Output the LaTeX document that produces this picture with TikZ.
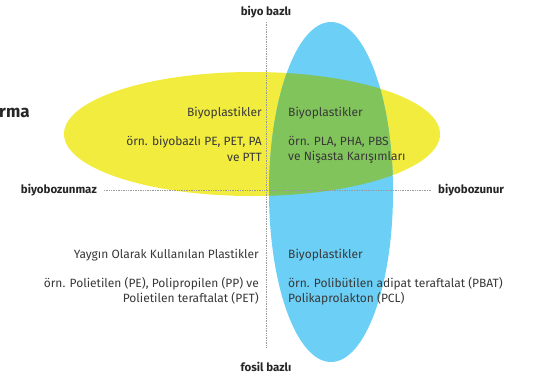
\documentclass[tikz,border=0pt]{standalone}
\usepackage{fontspec}
\setmainfont{Fira Sans}
\begin{document}
\begin{tikzpicture}[x=1pt,y=-1pt,
  txt/.style={text=black!78, font=\fontsize{12}{15.5}\selectfont, inner sep=0pt},
  axl/.style={text=black!85, font=\fontsize{11.5}{13}\selectfont\bfseries, inner sep=0pt},
  axis/.style={draw=black!40, densely dotted, line width=0.7pt}]
\useasboundingbox (0,0) rectangle (537,381);
\definecolor{yel}{RGB}{242,236,62}
\definecolor{blu}{RGB}{108,207,246}
\definecolor{grn}{RGB}{130,196,92}
% ellipses
\fill[yel] (252,134) ellipse [x radius=188, y radius=62];
\fill[blu] (331,192) ellipse [x radius=62, y radius=170];
\begin{scope}
\clip (252,134) ellipse [x radius=188, y radius=62];
\fill[grn] (331,192) ellipse [x radius=62, y radius=170];
\end{scope}
% axes
\coordinate (vt) at (266,22);
\coordinate (vb) at (266,347);
\coordinate (hl) at (104,190);
\coordinate (hr) at (432,190);
\draw[axis] (vt) -- (vb);
\draw[axis] (hl) -- (hr);
\node[axl] (top) at (266,12) {biyo bazlı};
\node[axl] (bot) at (266,367) {fosil bazlı};
\node[axl, anchor=east] (left) at (97,190) {biyobozunmaz};
\node[axl, anchor=west] (right) at (438,190) {biyobozunur};
\node[font=\fontsize{17}{19}\selectfont\bfseries, text=black!85, anchor=west, inner sep=0pt] (cut) at (-1,113) {rma};
% quadrant texts
\node[txt, anchor=east] (q1a) at (262,113) {Biyoplastikler};
\node[txt, anchor=north east, align=right] (q1b) at (262,136) {örn. biyobazlı PE, PET, PA\\ve PTT};
\node[txt, anchor=west] (q2a) at (288,113) {Biyoplastikler};
\node[txt, anchor=north west, align=left] (q2b) at (288,136) {örn. PLA, PHA, PBS\\ve Nişasta Karışımları};
\node[txt, anchor=east] (q3a) at (259,255) {Yaygın Olarak Kullanılan Plastikler};
\node[txt, anchor=north east, align=right] (q3b) at (259,277) {örn. Polietilen (PE), Polipropilen (PP) ve\\Polietilen teraftalat (PET)};
\node[txt, anchor=west] (q4a) at (288,255) {Biyoplastikler};
\node[txt, anchor=north west, align=left] (q4b) at (288,277) {örn. Polibütilen adipat teraftalat (PBAT)\\Polikaprolakton (PCL)};
\end{tikzpicture}
\end{document}
